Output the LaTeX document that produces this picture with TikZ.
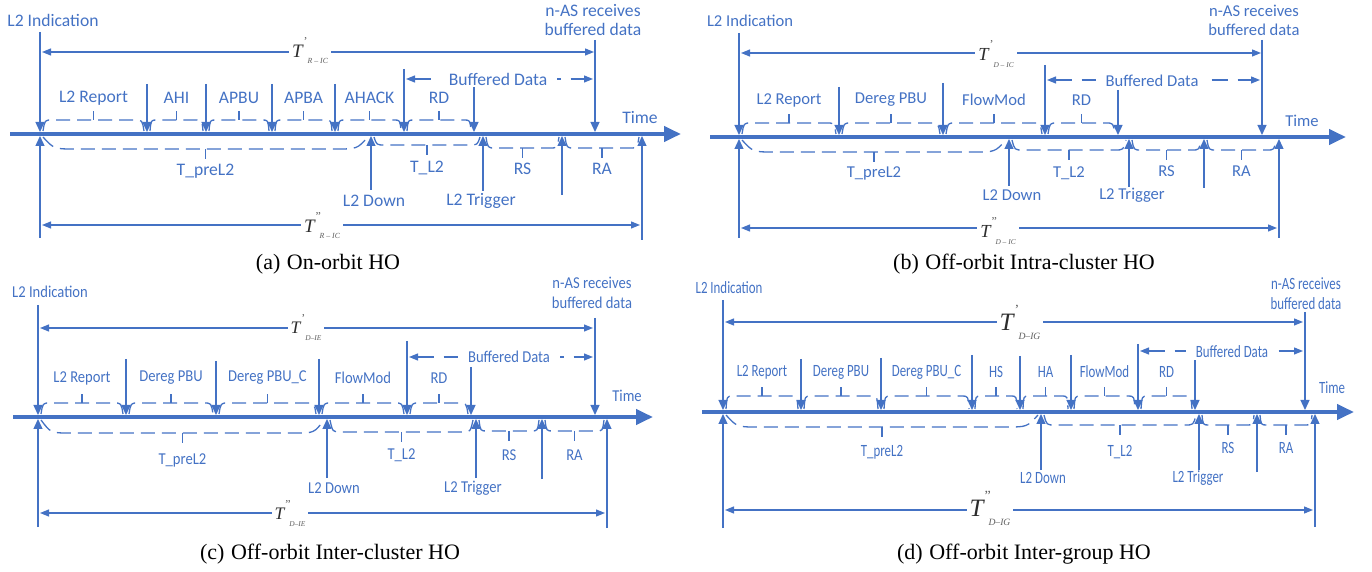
\documentclass[tikz,border=0pt]{standalone}
\usepackage{fontspec}
\setmainfont{Liberation Serif}
\newfontfamily\lfa{Carlito}
\newfontfamily\lfc{Carlito}[FakeStretch=0.88]
\newfontfamily\lfd{Carlito}[FakeStretch=0.75]
\usetikzlibrary{arrows.meta}
\definecolor{cb}{RGB}{68,114,196}
\definecolor{tdark}{RGB}{45,45,45}
\definecolor{tgray}{RGB}{95,95,95}

\newcommand\Tl[7]{% T size, prime, sub, prime raise, sub lower, sub size, prime size
 \textcolor{tdark}{\fontsize{#1}{#1}\selectfont\itshape T}%
 \makebox[0pt][l]{\kern0.5pt\raisebox{#4}{\textcolor{tgray}{\fontsize{#7}{#7}\selectfont #2}}}%
 \kern2.5pt\raisebox{-#5}{\textcolor{tgray}{\fontsize{#6}{#6}\selectfont\itshape #3}}}

\tikzset{
 lbl/.style={text=cb, inner sep=0pt, align=center},
 ev/.style={draw=cb, line width=0.65pt, -{Triangle[length=5pt,width=4.5pt]}},
 axisline/.style={draw=cb, line width=2pt, -{Triangle[length=8.5pt,width=7.5pt]}},
 tspan/.style={draw=cb, line width=0.6pt, {Triangle[length=4.5pt,width=3.5pt]}-{Triangle[length=4.5pt,width=3.5pt]}},
 bufspan/.style={tspan, dash pattern=on 8pt off 5pt},
 dbrace/.style={draw=cb, line width=0.65pt, dash pattern=on 7pt off 3.5pt},
 btick/.style={draw=cb, line width=0.7pt},
 tlab/.style={fill=white, inner sep=1.5pt},
 capt/.style={inner sep=0pt, font=\fontsize{11}{13}\selectfont},
 bufl/.style={plbl, fill=white, inner xsep=5pt, inner ysep=1pt},
}

% down event arrow: name, x, ytop, axis y
\newcommand\evdown[4]{\coordinate (#1-t) at (#2,#3);\coordinate (#1-b) at (#2,#4-2);\draw[ev] (#1-t) -- (#1-b);}
% up event arrow: name, x, ybottom, axis y
\newcommand\evup[4]{\coordinate (#1-b) at (#2,#3);\coordinate (#1-t) at (#2,#4+2);\draw[ev] (#1-b) -- (#1-t);}
% upper brace: name, x1, x2, ybrace, axis y, radius, label y, text
\newcommand\bracU[8]{%
 \draw[dbrace] (#2+3,#5-3) .. controls (#2+0.4*#6,#4) .. (#2+#6,#4) -- (#3-#6,#4) .. controls (#3-0.4*#6,#4) .. (#3-3,#5-3);
 \draw[btick] ({(#2+#3)/2},#4) -- ++(0,-9);
 \node[plbl] (#1) at ({(#2+#3)/2},#7) {#8};}
% lower brace
\newcommand\bracL[8]{%
 \draw[dbrace] (#2+3,#5+3) .. controls (#2+0.4*#6,#4) .. (#2+#6,#4) -- (#3-#6,#4) .. controls (#3-0.4*#6,#4) .. (#3-3,#5+3);
 \draw[btick] ({(#2+#3)/2},#4) -- ++(0,10);
 \node[plbl] (#1) at ({(#2+#3)/2},#7) {#8};}

\begin{document}
\begin{tikzpicture}[x=0.5pt,y=-0.5pt]
\useasboundingbox (0,0) rectangle (1372,572);

% ================= (a) =================
\begin{scope}[plbl/.style={lbl,font=\lfa\fontsize{8.8}{9.6}\selectfont}]
\coordinate (a-ax0) at (10,134); \coordinate (a-ax1) at (681,134);
\draw[axisline] (a-ax0) -- (a-ax1);
\node[plbl] (a-ind) at (53,20) {L2 Indication};
\node[plbl] (a-nas) at (593,20) {n-AS receives\\buffered data};
\node[plbl] (a-time) at (640,118) {Time};
\evdown{a-e0}{40}{32}{134}
\evup{a-u0}{40}{238}{134}
\evdown{a-e1}{147}{84}{134}
\evdown{a-e2}{206}{84}{134}
\evdown{a-e3}{272}{84}{134}
\evdown{a-e4}{335}{84}{134}
\evdown{a-e5}{404}{69}{134}
\evdown{a-e6}{474}{86}{134}
\evdown{a-e7}{595}{40}{134}
\bracU{a-l1}{40}{147}{120}{134}{12}{98}{L2 Report}
\bracU{a-l2}{147}{206}{120}{134}{10}{98}{AHI}
\bracU{a-l3}{206}{272}{120}{134}{10}{98}{APBU}
\bracU{a-l4}{272}{335}{120}{134}{10}{98}{APBA}
\bracU{a-l5}{335}{404}{120}{134}{10}{98}{AHACK}
\bracU{a-l6}{404}{474}{120}{134}{10}{98}{RD}
\coordinate (a-b0) at (406,79); \coordinate (a-b1) at (593,79);
\draw[bufspan] (a-b0) -- (a-b1);
\node[bufl] (a-bd) at (498,79) {Buffered Data};
\coordinate (a-s0) at (42,52); \coordinate (a-s1) at (594,52);
\draw[tspan] (a-s0) -- (a-s1);
\node[tlab] (a-T1) at (310,51) {\Tl{9.5}{'}{R -- IC}{6pt}{3pt}{3.9}{6}};
\evup{a-u1}{371}{190}{134}
\evup{a-u2}{483}{191}{134}
\evup{a-u3}{562}{195}{134}
\evup{a-u4}{642}{240}{134}
\bracL{a-p1}{40}{371}{149}{134}{35}{171}{T\_preL2}
\bracL{a-p2}{371}{483}{145}{134}{14}{168}{T\_L2}
\bracL{a-p3}{483}{562}{148}{134}{12}{169}{RS}
\bracL{a-p4}{562}{642}{148}{134}{12}{169}{RA}
\node[plbl] (a-down) at (374,201) {L2 Down};
\node[plbl] (a-trig) at (481,201) {L2 Trigger};
\coordinate (a-d0) at (42,225); \coordinate (a-d1) at (640,225);
\draw[tspan] (a-d0) -- (a-d1);
\node[tlab] (a-T2) at (322,226) {\Tl{9.5}{''}{R -- IC}{6pt}{3pt}{3.9}{6}};
\node[capt] (a-cap) at (328,264) {(a)\hspace{0.3em}On-orbit HO};
\end{scope}

% ================= (b) =================
\begin{scope}[plbl/.style={lbl,font=\lfa\fontsize{8.3}{9.6}\selectfont}]
\coordinate (b-ax0) at (710,137); \coordinate (b-ax1) at (1346,137);
\draw[axisline] (b-ax0) -- (b-ax1);
\node[plbl] (b-ind) at (750,21) {L2 Indication};
\node[plbl] (b-nas) at (1254,20) {n-AS receives\\buffered data};
\node[plbl] (b-time) at (1302,121) {Time};
\evdown{b-e0}{739}{33}{137}
\evup{b-u0}{739}{238}{137}
\evdown{b-e1}{839}{87}{137}
\evdown{b-e2}{943}{83}{137}
\evdown{b-e3}{1045}{65}{137}
\evdown{b-e4}{1118}{90}{137}
\evdown{b-e5}{1262}{40}{137}
\bracU{b-l1}{739}{839}{123}{137}{12}{100}{L2 Report}
\bracU{b-l2}{839}{943}{123}{137}{12}{100}{Dereg PBU}
\bracU{b-l3}{943}{1045}{123}{137}{12}{100}{FlowMod}
\bracU{b-l4}{1045}{1118}{123}{137}{12}{100}{RD}
\coordinate (b-b0) at (1047,80); \coordinate (b-b1) at (1260,80);
\draw[bufspan] (b-b0) -- (b-b1);
\node[bufl] (b-bd) at (1152,81) {Buffered Data};
\coordinate (b-s0) at (741,53); \coordinate (b-s1) at (1261,53);
\draw[tspan] (b-s0) -- (b-s1);
\node[tlab] (b-T1) at (996,54) {\Tl{9.2}{'}{D -- IC}{6pt}{3.5pt}{3.7}{6}};
\evup{b-u1}{1009}{186}{137}
\evup{b-u2}{1129}{187}{137}
\evup{b-u3}{1204}{188}{137}
\evup{b-u4}{1279}{238}{137}
\bracL{b-p1}{739}{1009}{152}{137}{35}{173}{T\_preL2}
\bracL{b-p2}{1009}{1129}{150}{137}{14}{173}{T\_L2}
\bracL{b-p3}{1129}{1204}{150}{137}{12}{171}{RS}
\bracL{b-p4}{1204}{1279}{150}{137}{12}{171}{RA}
\node[plbl] (b-down) at (1012,195) {L2 Down};
\node[plbl] (b-trig) at (1132,195) {L2 Trigger};
\coordinate (b-d0) at (741,228); \coordinate (b-d1) at (1277,228);
\draw[tspan] (b-d0) -- (b-d1);
\node[tlab] (b-T2) at (998,231) {\Tl{9.2}{''}{D -- IC}{6pt}{3.5pt}{3.7}{6}};
\node[capt] (b-cap) at (1024,264) {(b)\hspace{0.3em}Off-orbit Intra-cluster HO};
\end{scope}

% ================= (c) =================
\begin{scope}[plbl/.style={lbl,font=\lfc\fontsize{8.3}{10}\selectfont}]
\coordinate (c-ax0) at (13,417); \coordinate (c-ax1) at (653,417);
\draw[axisline] (c-ax0) -- (c-ax1);
\node[plbl] (c-ind) at (50,292) {L2 Indication};
\node[plbl] (c-nas) at (592,293) {n-AS receives\\buffered data};
\node[plbl] (c-time) at (627,396) {Time};
\evdown{c-e0}{38}{305}{417}
\evup{c-u0}{38}{527}{417}
\evdown{c-e1}{126}{359}{417}
\evdown{c-e2}{216}{361}{417}
\evdown{c-e3}{319}{359}{417}
\evdown{c-e4}{407}{341}{417}
\evdown{c-e5}{471}{367}{417}
\evdown{c-e6}{595}{318}{417}
\bracU{c-l1}{38}{126}{403}{417}{12}{378}{L2 Report}
\bracU{c-l2}{126}{216}{403}{417}{12}{378}{Dereg PBU}
\bracU{c-l3}{216}{319}{403}{417}{12}{378}{Dereg PBU\_C}
\bracU{c-l4}{319}{407}{403}{417}{12}{378}{FlowMod}
\bracU{c-l5}{407}{471}{403}{417}{12}{378}{RD}
\coordinate (c-b0) at (409,357); \coordinate (c-b1) at (593,357);
\draw[bufspan] (c-b0) -- (c-b1);
\node[bufl] (c-bd) at (509,357) {Buffered Data};
\coordinate (c-s0) at (40,328); \coordinate (c-s1) at (593,328);
\draw[tspan] (c-s0) -- (c-s1);
\node[tlab] (c-T1) at (306,328) {\Tl{8.8}{'}{D--IE}{5.5pt}{3.5pt}{3.7}{6}};
\evup{c-u1}{327}{478}{417}
\evup{c-u2}{476}{478}{417}
\evup{c-u3}{542}{479}{417}
\evup{c-u4}{607}{528}{417}
\bracL{c-p1}{38}{327}{433}{417}{32}{460}{T\_preL2}
\bracL{c-p2}{327}{476}{432}{417}{14}{455}{T\_L2}
\bracL{c-p3}{476}{542}{431}{417}{11}{455}{RS}
\bracL{c-p4}{542}{607}{431}{417}{11}{455}{RA}
\node[plbl] (c-down) at (334,488) {L2 Down};
\node[plbl] (c-trig) at (473,488) {L2 Trigger};
\coordinate (c-d0) at (40,513); \coordinate (c-d1) at (605,513);
\draw[tspan] (c-d0) -- (c-d1);
\node[tlab] (c-T2) at (290,514) {\Tl{8.8}{''}{D--IE}{5.5pt}{3.5pt}{3.7}{6}};
\node[capt] (c-cap) at (330,554) {(c)\hspace{0.3em}Off-orbit Inter-cluster HO};
\end{scope}

% ================= (d) =================
\begin{scope}[plbl/.style={lbl,font=\lfd\fontsize{8.6}{10}\selectfont}]
\coordinate (d-ax0) at (702,412); \coordinate (d-ax1) at (1354,412);
\draw[axisline] (d-ax0) -- (d-ax1);
\node[plbl] (d-ind) at (729,288) {L2 Indication};
\node[plbl] (d-nas) at (1306,294) {n-AS receives\\buffered data};
\node[plbl] (d-time) at (1332,388) {Time};
\evdown{d-e0}{723}{300}{412}
\evup{d-u0}{723}{528}{412}
\evdown{d-e1}{801}{359}{412}
\evdown{d-e2}{881}{358}{412}
\evdown{d-e3}{972}{355}{412}
\evdown{d-e4}{1020}{356}{412}
\evdown{d-e5}{1071}{355}{412}
\evdown{d-e6}{1138}{344}{412}
\evdown{d-e7}{1195}{360}{412}
\evdown{d-e8}{1305}{312}{412}
\bracU{d-l1}{723}{801}{396}{412}{10}{372}{L2 Report}
\bracU{d-l2}{801}{881}{396}{412}{10}{372}{Dereg PBU}
\bracU{d-l3}{881}{972}{396}{412}{10}{372}{Dereg PBU\_C}
\bracU{d-l4}{972}{1020}{396}{412}{9}{372}{HS}
\bracU{d-l5}{1020}{1071}{396}{412}{9}{372}{HA}
\bracU{d-l6}{1071}{1138}{396}{412}{10}{372}{FlowMod}
\bracU{d-l7}{1138}{1195}{396}{412}{10}{372}{RD}
\coordinate (d-b0) at (1140,351); \coordinate (d-b1) at (1303,351);
\draw[bufspan] (d-b0) -- (d-b1);
\node[bufl] (d-bd) at (1232,352) {Buffered Data};
\coordinate (d-s0) at (725,322); \coordinate (d-s1) at (1303,322);
\draw[tspan] (d-s0) -- (d-s1);
\node[tlab] (d-T1) at (1020,322) {\Tl{12.5}{'}{D--IG}{8pt}{4.5pt}{4.8}{7}};
\evup{d-u1}{1041}{470}{412}
\evup{d-u2}{1199}{470}{412}
\evup{d-u3}{1257}{472}{412}
\evup{d-u4}{1315}{527}{412}
\bracL{d-p1}{723}{1041}{427}{412}{35}{452}{T\_preL2}
\bracL{d-p2}{1041}{1199}{425}{412}{14}{452}{T\_L2}
\bracL{d-p3}{1199}{1257}{425}{412}{10}{448}{RS}
\bracL{d-p4}{1257}{1315}{425}{412}{10}{448}{RA}
\node[plbl] (d-down) at (1043,478) {L2 Down};
\node[plbl] (d-trig) at (1198,478) {L2 Trigger};
\coordinate (d-d0) at (725,510); \coordinate (d-d1) at (1313,510);
\draw[tspan] (d-d0) -- (d-d1);
\node[tlab] (d-T2) at (990,508) {\Tl{12.5}{''}{D--IG}{8pt}{4.5pt}{4.8}{7}};
\node[capt] (d-cap) at (1024,554) {(d)\hspace{0.3em}Off-orbit Inter-group HO};
\end{scope}
\end{tikzpicture}
\end{document}
